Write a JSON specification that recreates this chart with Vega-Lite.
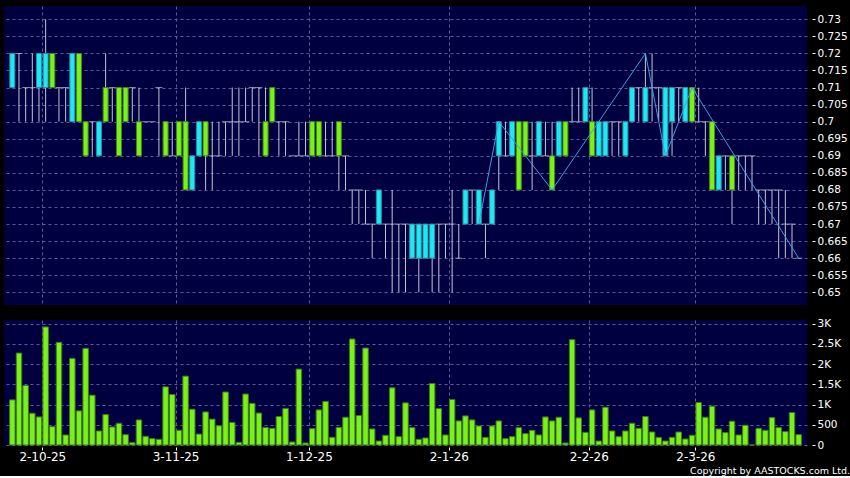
{
  "$schema": "https://vega.github.io/schema/vega-lite/v6.json",
  "background": "#000000",
  "padding": {"left": 4, "top": 6, "right": 4, "bottom": 0},
  "config": {
    "view": {"stroke": null, "fill": "#000040"},
    "font": "DejaVu Sans",
    "axis": {
      "gridColor": "#5c5c99",
      "gridDash": [3, 3],
      "gridWidth": 1,
      "domain": false,
      "labelColor": "#ffffff",
      "tickColor": "#ffffff",
      "labelFont": "DejaVu Sans",
      "labelOverlap": false,
      "labelBound": false,
      "title": null
    }
  },
  "datasets": {
    "prices": [
      {"i":0,"date":"2025-09-24","o":0.71,"h":0.72,"l":0.71,"c":0.72,"v":1116},
      {"i":1,"date":"2025-09-25","o":0.72,"h":0.72,"l":0.70,"c":0.72,"v":2273},
      {"i":2,"date":"2025-09-26","o":0.71,"h":0.71,"l":0.70,"c":0.71,"v":1471},
      {"i":3,"date":"2025-09-29","o":0.71,"h":0.72,"l":0.70,"c":0.71,"v":785},
      {"i":4,"date":"2025-09-30","o":0.71,"h":0.72,"l":0.70,"c":0.72,"v":694},
      {"i":5,"date":"2025-10-02","o":0.71,"h":0.73,"l":0.70,"c":0.72,"v":2918},
      {"i":6,"date":"2025-10-03","o":0.72,"h":0.72,"l":0.71,"c":0.71,"v":455},
      {"i":7,"date":"2025-10-06","o":0.71,"h":0.71,"l":0.70,"c":0.71,"v":2538},
      {"i":8,"date":"2025-10-08","o":0.71,"h":0.71,"l":0.70,"c":0.71,"v":248},
      {"i":9,"date":"2025-10-09","o":0.70,"h":0.72,"l":0.70,"c":0.72,"v":2141},
      {"i":10,"date":"2025-10-10","o":0.72,"h":0.72,"l":0.70,"c":0.70,"v":843},
      {"i":11,"date":"2025-10-13","o":0.70,"h":0.70,"l":0.69,"c":0.69,"v":2389},
      {"i":12,"date":"2025-10-14","o":0.70,"h":0.70,"l":0.69,"c":0.70,"v":1232},
      {"i":13,"date":"2025-10-15","o":0.69,"h":0.70,"l":0.69,"c":0.70,"v":347},
      {"i":14,"date":"2025-10-16","o":0.71,"h":0.72,"l":0.70,"c":0.70,"v":752},
      {"i":15,"date":"2025-10-17","o":0.71,"h":0.71,"l":0.70,"c":0.71,"v":446},
      {"i":16,"date":"2025-10-20","o":0.71,"h":0.71,"l":0.69,"c":0.69,"v":537},
      {"i":17,"date":"2025-10-21","o":0.71,"h":0.71,"l":0.70,"c":0.70,"v":256},
      {"i":18,"date":"2025-10-22","o":0.71,"h":0.71,"l":0.70,"c":0.71,"v":58},
      {"i":19,"date":"2025-10-23","o":0.70,"h":0.71,"l":0.69,"c":0.69,"v":620},
      {"i":20,"date":"2025-10-24","o":0.70,"h":0.70,"l":0.70,"c":0.70,"v":215},
      {"i":21,"date":"2025-10-27","o":0.70,"h":0.70,"l":0.70,"c":0.70,"v":157},
      {"i":22,"date":"2025-10-28","o":0.71,"h":0.71,"l":0.69,"c":0.71,"v":141},
      {"i":23,"date":"2025-10-30","o":0.70,"h":0.70,"l":0.69,"c":0.69,"v":1438},
      {"i":24,"date":"2025-10-31","o":0.69,"h":0.70,"l":0.69,"c":0.69,"v":1248},
      {"i":25,"date":"2025-11-03","o":0.70,"h":0.70,"l":0.69,"c":0.69,"v":364},
      {"i":26,"date":"2025-11-04","o":0.70,"h":0.71,"l":0.68,"c":0.68,"v":1703},
      {"i":27,"date":"2025-11-05","o":0.68,"h":0.69,"l":0.68,"c":0.69,"v":885},
      {"i":28,"date":"2025-11-06","o":0.69,"h":0.70,"l":0.69,"c":0.70,"v":270},
      {"i":29,"date":"2025-11-07","o":0.70,"h":0.70,"l":0.68,"c":0.69,"v":818},
      {"i":30,"date":"2025-11-10","o":0.69,"h":0.70,"l":0.68,"c":0.69,"v":640},
      {"i":31,"date":"2025-11-11","o":0.69,"h":0.70,"l":0.69,"c":0.69,"v":475},
      {"i":32,"date":"2025-11-12","o":0.70,"h":0.70,"l":0.69,"c":0.70,"v":1310},
      {"i":33,"date":"2025-11-13","o":0.70,"h":0.71,"l":0.69,"c":0.70,"v":558},
      {"i":34,"date":"2025-11-14","o":0.70,"h":0.71,"l":0.69,"c":0.70,"v":66},
      {"i":35,"date":"2025-11-17","o":0.70,"h":0.71,"l":0.70,"c":0.70,"v":1260},
      {"i":36,"date":"2025-11-18","o":0.71,"h":0.71,"l":0.70,"c":0.71,"v":1030},
      {"i":37,"date":"2025-11-19","o":0.71,"h":0.71,"l":0.69,"c":0.71,"v":790},
      {"i":38,"date":"2025-11-20","o":0.70,"h":0.71,"l":0.69,"c":0.69,"v":434},
      {"i":39,"date":"2025-11-21","o":0.71,"h":0.71,"l":0.70,"c":0.70,"v":413},
      {"i":40,"date":"2025-11-24","o":0.70,"h":0.70,"l":0.69,"c":0.70,"v":703},
      {"i":41,"date":"2025-11-25","o":0.70,"h":0.70,"l":0.69,"c":0.70,"v":905},
      {"i":42,"date":"2025-11-26","o":0.69,"h":0.69,"l":0.69,"c":0.69,"v":74},
      {"i":43,"date":"2025-11-27","o":0.69,"h":0.70,"l":0.69,"c":0.69,"v":1877},
      {"i":44,"date":"2025-11-28","o":0.69,"h":0.70,"l":0.69,"c":0.69,"v":50},
      {"i":45,"date":"2025-12-01","o":0.70,"h":0.70,"l":0.69,"c":0.69,"v":405},
      {"i":46,"date":"2025-12-02","o":0.70,"h":0.70,"l":0.69,"c":0.69,"v":868},
      {"i":47,"date":"2025-12-03","o":0.69,"h":0.70,"l":0.69,"c":0.69,"v":1075},
      {"i":48,"date":"2025-12-04","o":0.69,"h":0.70,"l":0.69,"c":0.69,"v":190},
      {"i":49,"date":"2025-12-05","o":0.70,"h":0.70,"l":0.68,"c":0.69,"v":438},
      {"i":50,"date":"2025-12-08","o":0.69,"h":0.69,"l":0.68,"c":0.69,"v":686},
      {"i":51,"date":"2025-12-09","o":0.68,"h":0.68,"l":0.67,"c":0.68,"v":2620},
      {"i":52,"date":"2025-12-10","o":0.68,"h":0.68,"l":0.67,"c":0.68,"v":728},
      {"i":53,"date":"2025-12-11","o":0.67,"h":0.68,"l":0.67,"c":0.67,"v":2397},
      {"i":54,"date":"2025-12-12","o":0.67,"h":0.67,"l":0.66,"c":0.67,"v":397},
      {"i":55,"date":"2025-12-15","o":0.67,"h":0.68,"l":0.67,"c":0.68,"v":99},
      {"i":56,"date":"2025-12-16","o":0.67,"h":0.67,"l":0.66,"c":0.67,"v":240},
      {"i":57,"date":"2025-12-17","o":0.67,"h":0.68,"l":0.65,"c":0.67,"v":1414},
      {"i":58,"date":"2025-12-18","o":0.67,"h":0.67,"l":0.65,"c":0.67,"v":207},
      {"i":59,"date":"2025-12-19","o":0.67,"h":0.67,"l":0.65,"c":0.67,"v":1042},
      {"i":60,"date":"2025-12-22","o":0.66,"h":0.67,"l":0.66,"c":0.67,"v":430},
      {"i":61,"date":"2025-12-23","o":0.66,"h":0.67,"l":0.65,"c":0.67,"v":141},
      {"i":62,"date":"2025-12-24","o":0.66,"h":0.67,"l":0.66,"c":0.67,"v":174},
      {"i":63,"date":"2025-12-29","o":0.66,"h":0.67,"l":0.65,"c":0.67,"v":1521},
      {"i":64,"date":"2025-12-30","o":0.67,"h":0.67,"l":0.65,"c":0.67,"v":900},
      {"i":65,"date":"2025-12-31","o":0.67,"h":0.67,"l":0.66,"c":0.67,"v":248},
      {"i":66,"date":"2026-01-02","o":0.67,"h":0.68,"l":0.65,"c":0.67,"v":1124},
      {"i":67,"date":"2026-01-05","o":0.66,"h":0.67,"l":0.66,"c":0.66,"v":595},
      {"i":68,"date":"2026-01-06","o":0.67,"h":0.68,"l":0.67,"c":0.68,"v":719},
      {"i":69,"date":"2026-01-07","o":0.68,"h":0.68,"l":0.67,"c":0.68,"v":620},
      {"i":70,"date":"2026-01-08","o":0.67,"h":0.68,"l":0.67,"c":0.68,"v":471},
      {"i":71,"date":"2026-01-09","o":0.67,"h":0.67,"l":0.66,"c":0.67,"v":190},
      {"i":72,"date":"2026-01-12","o":0.67,"h":0.68,"l":0.67,"c":0.68,"v":471},
      {"i":73,"date":"2026-01-13","o":0.69,"h":0.70,"l":0.68,"c":0.70,"v":595},
      {"i":74,"date":"2026-01-14","o":0.69,"h":0.70,"l":0.69,"c":0.69,"v":157},
      {"i":75,"date":"2026-01-15","o":0.69,"h":0.70,"l":0.69,"c":0.70,"v":207},
      {"i":76,"date":"2026-01-16","o":0.70,"h":0.70,"l":0.68,"c":0.68,"v":430},
      {"i":77,"date":"2026-01-19","o":0.70,"h":0.70,"l":0.69,"c":0.69,"v":281},
      {"i":78,"date":"2026-01-20","o":0.69,"h":0.70,"l":0.68,"c":0.69,"v":364},
      {"i":79,"date":"2026-01-21","o":0.69,"h":0.70,"l":0.69,"c":0.70,"v":248},
      {"i":80,"date":"2026-01-22","o":0.69,"h":0.70,"l":0.69,"c":0.69,"v":694},
      {"i":81,"date":"2026-01-23","o":0.69,"h":0.70,"l":0.68,"c":0.68,"v":595},
      {"i":82,"date":"2026-01-26","o":0.69,"h":0.70,"l":0.69,"c":0.70,"v":686},
      {"i":83,"date":"2026-01-27","o":0.70,"h":0.70,"l":0.69,"c":0.69,"v":50},
      {"i":84,"date":"2026-01-28","o":0.70,"h":0.71,"l":0.70,"c":0.70,"v":2604},
      {"i":85,"date":"2026-01-29","o":0.70,"h":0.71,"l":0.70,"c":0.70,"v":670},
      {"i":86,"date":"2026-01-30","o":0.70,"h":0.71,"l":0.70,"c":0.71,"v":314},
      {"i":87,"date":"2026-02-02","o":0.70,"h":0.71,"l":0.69,"c":0.69,"v":868},
      {"i":88,"date":"2026-02-03","o":0.69,"h":0.70,"l":0.69,"c":0.70,"v":99},
      {"i":89,"date":"2026-02-04","o":0.69,"h":0.70,"l":0.69,"c":0.70,"v":934},
      {"i":90,"date":"2026-02-05","o":0.70,"h":0.70,"l":0.69,"c":0.70,"v":347},
      {"i":91,"date":"2026-02-06","o":0.70,"h":0.70,"l":0.69,"c":0.70,"v":207},
      {"i":92,"date":"2026-02-09","o":0.69,"h":0.70,"l":0.69,"c":0.70,"v":347},
      {"i":93,"date":"2026-02-10","o":0.70,"h":0.71,"l":0.70,"c":0.71,"v":537},
      {"i":94,"date":"2026-02-11","o":0.71,"h":0.71,"l":0.70,"c":0.71,"v":413},
      {"i":95,"date":"2026-02-12","o":0.70,"h":0.72,"l":0.70,"c":0.71,"v":703},
      {"i":96,"date":"2026-02-13","o":0.71,"h":0.72,"l":0.70,"c":0.71,"v":322},
      {"i":97,"date":"2026-02-20","o":0.71,"h":0.71,"l":0.70,"c":0.71,"v":190},
      {"i":98,"date":"2026-02-23","o":0.69,"h":0.71,"l":0.69,"c":0.71,"v":99},
      {"i":99,"date":"2026-02-24","o":0.70,"h":0.71,"l":0.69,"c":0.71,"v":190},
      {"i":100,"date":"2026-02-25","o":0.71,"h":0.71,"l":0.70,"c":0.71,"v":322},
      {"i":101,"date":"2026-02-26","o":0.70,"h":0.71,"l":0.70,"c":0.71,"v":149},
      {"i":102,"date":"2026-02-27","o":0.71,"h":0.71,"l":0.70,"c":0.70,"v":240},
      {"i":103,"date":"2026-03-02","o":0.70,"h":0.71,"l":0.70,"c":0.70,"v":1050},
      {"i":104,"date":"2026-03-03","o":0.70,"h":0.70,"l":0.69,"c":0.70,"v":687},
      {"i":105,"date":"2026-03-04","o":0.70,"h":0.70,"l":0.68,"c":0.68,"v":959},
      {"i":106,"date":"2026-03-05","o":0.68,"h":0.69,"l":0.68,"c":0.69,"v":397},
      {"i":107,"date":"2026-03-06","o":0.69,"h":0.69,"l":0.68,"c":0.69,"v":306},
      {"i":108,"date":"2026-03-09","o":0.69,"h":0.69,"l":0.67,"c":0.68,"v":587},
      {"i":109,"date":"2026-03-10","o":0.69,"h":0.69,"l":0.68,"c":0.69,"v":248},
      {"i":110,"date":"2026-03-11","o":0.69,"h":0.69,"l":0.68,"c":0.69,"v":488},
      {"i":111,"date":"2026-03-12","o":0.69,"h":0.69,"l":0.68,"c":0.69,"v":0},
      {"i":112,"date":"2026-03-13","o":0.68,"h":0.68,"l":0.67,"c":0.68,"v":413},
      {"i":113,"date":"2026-03-16","o":0.68,"h":0.68,"l":0.67,"c":0.68,"v":364},
      {"i":114,"date":"2026-03-17","o":0.68,"h":0.68,"l":0.67,"c":0.68,"v":677},
      {"i":115,"date":"2026-03-18","o":0.68,"h":0.68,"l":0.66,"c":0.68,"v":430},
      {"i":116,"date":"2026-03-19","o":0.67,"h":0.68,"l":0.66,"c":0.67,"v":331},
      {"i":117,"date":"2026-03-20","o":0.67,"h":0.67,"l":0.66,"c":0.67,"v":802},
      {"i":118,"date":"2026-03-23","o":0.66,"h":0.66,"l":0.66,"c":0.66,"v":256}
    ],
    "zigzag": [
      {"i":70,"p":0.67},
      {"i":73,"p":0.70},
      {"i":81,"p":0.68},
      {"i":95,"p":0.72},
      {"i":98,"p":0.69},
      {"i":102,"p":0.71},
      {"i":118,"p":0.66}
    ]
  },
  "title": {
    "text": "Copyright by AASTOCKS.com Ltd.",
    "orient": "bottom",
    "anchor": "end",
    "frame": "bounds",
    "fontSize": 9.5,
    "fontWeight": "normal",
    "font": "DejaVu Sans",
    "color": "#ffffff",
    "offset": 4,
    "dx": 3,
    "baseline": "top"
  },
  "spacing": 13,
  "vconcat": [
    {
      "width": 803,
      "height": 299,
      "data": {"name": "prices"},
      "layer": [
        {
          "mark": {"type": "rule", "color": "#c4c4d8", "strokeWidth": 1},
          "encoding": {
            "x": {
              "field": "i", "type": "quantitative",
              "scale": {"domain": [-0.5, 118.5], "nice": false, "zero": false},
              "axis": {"values": [4.5, 24.5, 44.5, 65.5, 86.5, 102.5], "grid": true, "labels": false, "ticks": false, "domain": false}
            },
            "y": {
              "field": "l", "type": "quantitative",
              "scale": {"domain": [0.64628, 0.7339], "nice": false, "zero": false},
              "axis": {
                "orient": "right",
                "values": [0.65, 0.655, 0.66, 0.665, 0.67, 0.675, 0.68, 0.685, 0.69, 0.695, 0.7, 0.705, 0.71, 0.715, 0.72, 0.725, 0.73],
                "format": ".3~f",
                "grid": true,
                "offset": 5,
                "tickSize": 3,
                "labelPadding": 2,
                "labelFontSize": 10.5
              }
            },
            "y2": {"field": "h"}
          }
        },
        {
          "transform": [{"filter": "datum.o == datum.c"}],
          "mark": {"type": "tick", "orient": "horizontal", "color": "#c4c4d8", "size": 7, "thickness": 1},
          "encoding": {
            "x": {
              "field": "i", "type": "quantitative",
              "scale": {"domain": [-0.5, 118.5], "nice": false, "zero": false},
              "axis": {"values": [4.5, 24.5, 44.5, 65.5, 86.5, 102.5], "grid": true, "labels": false, "ticks": false, "domain": false}
            },
            "y": {
              "field": "c", "type": "quantitative",
              "scale": {"domain": [0.64628, 0.7339], "nice": false, "zero": false},
              "axis": {
                "orient": "right",
                "values": [0.65, 0.655, 0.66, 0.665, 0.67, 0.675, 0.68, 0.685, 0.69, 0.695, 0.7, 0.705, 0.71, 0.715, 0.72, 0.725, 0.73],
                "format": ".3~f",
                "grid": true,
                "offset": 5,
                "tickSize": 3,
                "labelPadding": 2,
                "labelFontSize": 10.5
              }
            }
          }
        },
        {
          "transform": [{"filter": "datum.o != datum.c"}],
          "mark": {"type": "bar", "size": 5, "strokeWidth": 1},
          "encoding": {
            "x": {
              "field": "i", "type": "quantitative",
              "scale": {"domain": [-0.5, 118.5], "nice": false, "zero": false},
              "axis": {"values": [4.5, 24.5, 44.5, 65.5, 86.5, 102.5], "grid": true, "labels": false, "ticks": false, "domain": false}
            },
            "y": {
              "field": "o", "type": "quantitative",
              "scale": {"domain": [0.64628, 0.7339], "nice": false, "zero": false},
              "axis": {
                "orient": "right",
                "values": [0.65, 0.655, 0.66, 0.665, 0.67, 0.675, 0.68, 0.685, 0.69, 0.695, 0.7, 0.705, 0.71, 0.715, 0.72, 0.725, 0.73],
                "format": ".3~f",
                "grid": true,
                "offset": 5,
                "tickSize": 3,
                "labelPadding": 2,
                "labelFontSize": 10.5
              }
            },
            "y2": {"field": "c"},
            "fill": {"condition": {"test": "datum.c > datum.o", "value": "#1ee8f6"}, "value": "#7cf01a"},
            "stroke": {"condition": {"test": "datum.c > datum.o", "value": "#2c8c9c"}, "value": "#3f8a16"}
          }
        },
        {
          "data": {"name": "zigzag"},
          "mark": {"type": "line", "color": "#3a9fe0", "strokeWidth": 1},
          "encoding": {
            "x": {
              "field": "i", "type": "quantitative",
              "scale": {"domain": [-0.5, 118.5], "nice": false, "zero": false},
              "axis": {"values": [4.5, 24.5, 44.5, 65.5, 86.5, 102.5], "grid": true, "labels": false, "ticks": false, "domain": false}
            },
            "y": {
              "field": "p", "type": "quantitative",
              "scale": {"domain": [0.64628, 0.7339], "nice": false, "zero": false},
              "axis": {
                "orient": "right",
                "values": [0.65, 0.655, 0.66, 0.665, 0.67, 0.675, 0.68, 0.685, 0.69, 0.695, 0.7, 0.705, 0.71, 0.715, 0.72, 0.725, 0.73],
                "format": ".3~f",
                "grid": true,
                "offset": 5,
                "tickSize": 3,
                "labelPadding": 2,
                "labelFontSize": 10.5
              }
            }
          }
        }
      ]
    },
    {
      "width": 803,
      "height": 125,
      "data": {"name": "prices"},
      "mark": {"type": "bar", "size": 5.5, "fill": "#7cf01a", "stroke": "#3a7c14", "strokeWidth": 1},
      "encoding": {
        "x": {
          "field": "i", "type": "quantitative",
          "scale": {"domain": [-0.5, 118.5], "nice": false, "zero": false},
          "axis": {
            "values": [4.5, 24.5, 44.5, 65.5, 86.5, 102.5],
            "labelExpr": "datum.value == 4.5 ? '2-10-25' : datum.value == 24.5 ? '3-11-25' : datum.value == 44.5 ? '1-12-25' : datum.value == 65.5 ? '2-1-26' : datum.value == 86.5 ? '2-2-26' : '2-3-26'",
            "grid": true,
            "offset": 2,
            "tickSize": 3,
            "labelPadding": 1,
            "labelFontSize": 12
          }
        },
        "y": {
          "field": "v", "type": "quantitative",
          "scale": {"domain": [0, 3090], "nice": false},
          "axis": {
            "orient": "right",
            "values": [0, 500, 1000, 1500, 2000, 2500, 3000],
            "labelExpr": "datum.value < 1000 ? '' + datum.value : (datum.value / 1000) + 'K'",
            "grid": true,
            "offset": 5,
            "tickSize": 3,
            "labelPadding": 2,
            "labelFontSize": 10.5
          }
        }
      }
    }
  ]
}
